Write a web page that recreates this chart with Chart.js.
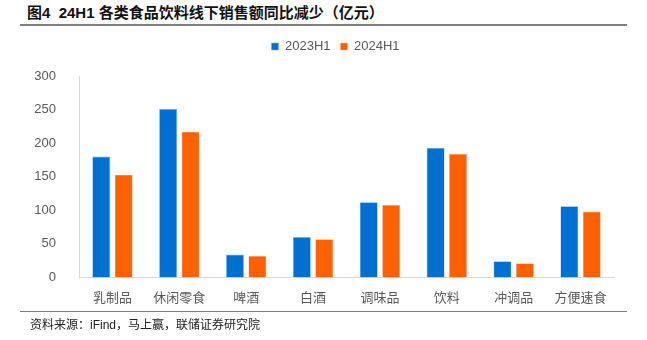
<!DOCTYPE html>
<html>
<head>
<meta charset="utf-8">
<script src="https://cdn.jsdelivr.net/npm/chart.js@4/dist/chart.umd.min.js"></script>
<style>
  html, body { margin: 0; padding: 0; background: #fff; }
  body { width: 647px; height: 340px; position: relative; overflow: hidden;
         font-family: "Liberation Sans", "Noto Sans CJK SC", sans-serif; }
  #title { position: absolute; left: 27px; top: 1px; font-size: 15px; font-weight: bold;
           color: #111; font-family: "Liberation Sans", "Noto Sans CJK SC", sans-serif; white-space: nowrap; }
  .rule { position: absolute; left: 20px; width: 607px; height: 2px; background: #7f7f7f; }
  #source { position: absolute; left: 30px; top: 315px; font-size: 12px; color: #222;
            font-family: "Liberation Sans", "Noto Sans CJK SC", sans-serif; white-space: nowrap; }
  #wrap { position: absolute; left: 0; top: 0; width: 647px; height: 340px; }
</style>
</head>
<body>
<div id="title">图4&nbsp;&nbsp;24H1 各类食品饮料线下销售额同比减少（亿元）</div>
<div class="rule" style="top:24px"></div>
<div id="wrap"><canvas id="c"></canvas></div>
<div class="rule" style="top:311px;height:1px"></div>
<div id="source">资料来源：iFind，马上赢，联储证券研究院</div>
<script>
const categories = ["乳制品", "休闲零食", "啤酒", "白酒", "调味品", "饮料", "冲调品", "方便速食"];
const sales2023H1 = [180, 251, 34, 60, 112, 193, 24, 106];
const sales2024H1 = [153, 217, 32, 57, 108, 184, 21, 98];
const yTicks = [0, 50, 100, 150, 200, 250, 300];

// extra room below the legend, and legend centred over the plot area
const legendLayout = {
  id: 'legendLayout',
  beforeInit(chart) {
    const fit = chart.legend.fit;
    chart.legend.fit = function () { fit.bind(chart.legend)(); this.height += 13; };
  },
  afterLayout(chart) {
    const lg = chart.legend;
    const shift = (chart.chartArea.left + chart.chartArea.right) / 2 - (lg.left + lg.right) / 2 - 11;
    lg.left += shift;
    lg.right += shift;
  }
};

new Chart(document.getElementById('c'), {
  type: 'bar',
  data: {
    labels: categories,
    datasets: [
      { label: '2023H1', data: sales2023H1, backgroundColor: '#0070d0', borderColor: '#7fb6e8', borderWidth: 0.6 },
      { label: '2024H1', data: sales2024H1, backgroundColor: '#ff6000', borderColor: '#ffb080', borderWidth: 0.6 }
    ]
  },
  options: {
    responsive: true,
    maintainAspectRatio: false,
    animation: false,
    devicePixelRatio: 1,
    layout: { padding: { top: 30, bottom: 31, left: 0, right: 33 } },
    datasets: { bar: { categoryPercentage: 0.67, barPercentage: 0.8 } },
    plugins: {
      tooltip: { enabled: false },
      legend: {
        position: 'top',
        labels: {
          boxWidth: 7, boxHeight: 7, padding: 10,
          color: '#595959',
          font: { size: 13, family: '"Liberation Sans", "Noto Sans", sans-serif' }
        }
      }
    },
    scales: {
      x: {
        grid: { display: false },
        border: { display: true, color: '#d9d9d9', width: 1 },
        ticks: {
          color: '#595959', padding: 4, maxRotation: 0, autoSkip: false,
          font: { size: 13, family: '"Noto Sans CJK SC", sans-serif' }
        }
      },
      y: {
        min: 0, max: 300,
        afterBuildTicks(scale) { scale.ticks = yTicks.map(v => ({ value: v })); },
        grid: { display: false },
        border: { display: true, color: '#d9d9d9', width: 1 },
        ticks: {
          color: '#595959', padding: 15,
          font: { size: 13, family: '"Liberation Sans", "Noto Sans", sans-serif' }
        },
        afterFit(scale) { scale.width = 79; }
      }
    }
  },
  plugins: [legendLayout]
});
</script>
</body>
</html>
